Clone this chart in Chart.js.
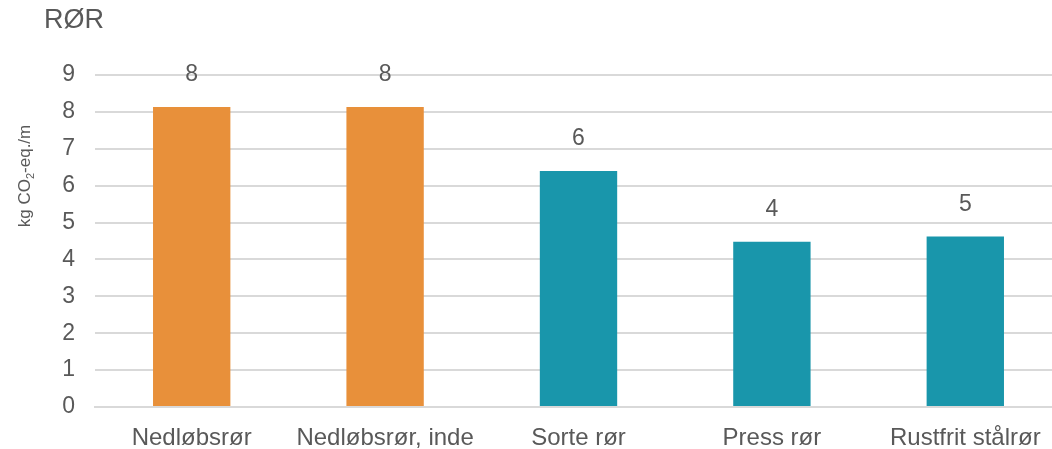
<!DOCTYPE html>
<html>
<head>
<meta charset="utf-8">
<script src="https://cdn.jsdelivr.net/npm/chart.js@4"></script>
<style>
  html, body { margin: 0; padding: 0; background: #fff; overflow: hidden; }
  #wrap { width: 1062px; height: 449px; position: relative; }
</style>
</head>
<body>
<div id="wrap"><canvas id="c"></canvas></div>
<script>
// data
const categories = ['Nedløbsrør', 'Nedløbsrør, inde', 'Sorte rør', 'Press rør', 'Rustfrit stålrør'];
const values = [8.13, 8.13, 6.40, 4.48, 4.62];
const barColors = ['#E8903A', '#E8903A', '#1996AB', '#1996AB', '#1996AB'];
const yTicks = [0, 1, 2, 3, 4, 5, 6, 7, 8, 9];

const FONT = '"Liberation Sans", Arial, sans-serif';
const GREY = '#595959';

// labels over the bars + title + y axis title
const extras = {
  id: 'extras',
  afterDatasetsDraw(chart) {
    const ctx = chart.ctx;
    const meta = chart.getDatasetMeta(0);
    ctx.save();
    ctx.fillStyle = GREY;
    ctx.font = '23px ' + FONT;
    ctx.textAlign = 'center';
    ctx.textBaseline = 'middle';
    meta.data.forEach((bar, i) => {
      ctx.fillText(String(Math.round(values[i])), bar.x, bar.y - 32);
    });

    // chart title
    ctx.font = '27px ' + FONT;
    ctx.textAlign = 'left';
    ctx.fillText('RØR', 44, 21);

    // y axis title (rotated, subscript 2) - sits above the middle in the original
    ctx.translate(25, 176);
    ctx.rotate(-Math.PI / 2);
    const a = 'kg CO', b = '2', c = '-eq./m';
    ctx.font = '17px ' + FONT;
    const wa = ctx.measureText(a).width, wc = ctx.measureText(c).width;
    ctx.font = '11px ' + FONT;
    const wb = ctx.measureText(b).width;
    let x = -(wa + wb + wc) / 2;
    ctx.font = '17px ' + FONT;
    ctx.fillText(a, x, 0); x += wa;
    ctx.font = '11px ' + FONT;
    ctx.fillText(b, x, 6); x += wb;
    ctx.font = '17px ' + FONT;
    ctx.fillText(c, x, 0);
    ctx.restore();
  }
};

new Chart(document.getElementById('c'), {
  type: 'bar',
  data: {
    labels: categories,
    datasets: [{
      data: values,
      backgroundColor: barColors,
      borderWidth: 0,
      barPercentage: 0.4,
      categoryPercentage: 1.0
    }]
  },
  options: {
    responsive: true,
    maintainAspectRatio: false,
    animation: false,
    layout: { padding: { top: 75, right: 0, left: 0, bottom: 0 } },
    plugins: { legend: { display: false }, tooltip: { enabled: false }, title: { display: false } },
    scales: {
      x: {
        grid: { display: false },
        border: { color: '#d9d9d9', width: 2 },
        ticks: { color: GREY, font: { family: FONT, size: 24 }, padding: 9, maxRotation: 0, autoSkip: false },
        afterFit(scale) { scale.height = 42; }
      },
      y: {
        min: 0,
        max: 9,
        afterBuildTicks(scale) { scale.ticks = yTicks.map(v => ({ value: v })); },
        grid: { color: '#d9d9d9', lineWidth: 2, drawTicks: false },
        border: { display: false },
        ticks: { color: GREY, font: { family: FONT, size: 23 }, padding: 20 },
        afterFit(scale) { scale.width = 95; }
      }
    }
  },
  plugins: [extras]
});
</script>
</body>
</html>
